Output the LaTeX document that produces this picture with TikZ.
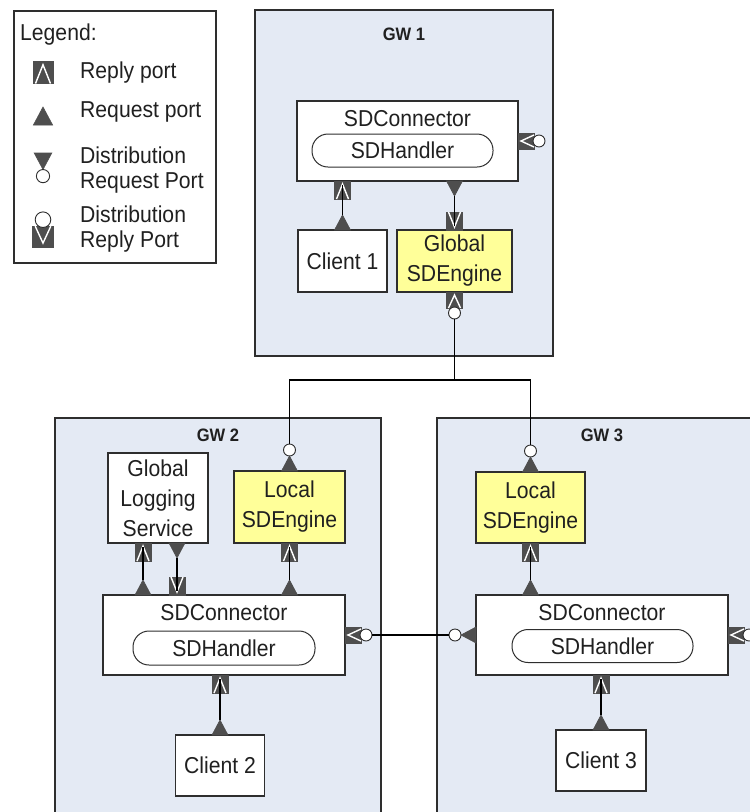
\documentclass[tikz,border=0pt]{standalone}
\usepackage{fontspec}
\setmainfont{Liberation Sans}[FakeStretch=0.92]
\usetikzlibrary{calc}
\definecolor{gwblue}{HTML}{E4EAF4}
\definecolor{engyellow}{HTML}{FFFF99}
\definecolor{edgegray}{HTML}{2E2E2E}
\definecolor{portgray}{HTML}{4E4E4E}
\definecolor{inkgray}{HTML}{202020}
\newcommand\boxfont{\fontsize{23}{30}\selectfont}
\newcommand\legfont{\fontsize{23}{25}\selectfont}
\newcommand\gwfont{\fontsize{18}{20}\selectfont\bfseries}
\tikzset{
  gw/.style={draw=edgegray, fill=gwblue, line width=1.3pt, inner sep=0pt, outer sep=0pt},
  box/.style={draw=edgegray, fill=white, line width=1.2pt, inner sep=0pt, outer sep=0pt,
    align=center, font=\boxfont, text=inkgray},
  engine/.style={box, fill=engyellow},
  pill/.style={draw=edgegray, fill=white, line width=1pt, rounded corners=16pt, inner sep=0pt,
    outer sep=0pt, font=\boxfont, text=inkgray},
  lbl/.style={font=\boxfont, text=inkgray, inner sep=0pt},
  leg/.style={font=\legfont, text=inkgray, inner sep=0pt, anchor=west, align=left},
  gwlabel/.style={font=\gwfont, text=inkgray, inner sep=0pt},
  wire/.style={draw=black, line width=1.1pt},
  portbody/.style={fill=portgray, draw=portgray, line width=0.6pt},
  portring/.style={fill=white, draw=edgegray, line width=0.9pt},
  portmark/.style={draw=white, line width=1.4pt},
  % ports sit on a component edge at the origin and point outward along local +y
  reqport/.pic={
    \path[portbody] (-8,0) -- (8,0) -- (0,15) -- cycle;
    \coordinate (-tip) at (0,15);},
  repport/.pic={
    \path[portbody] (-8,0) rectangle (8,18);
    \draw[portmark] (-6,18) -- (0,3) -- (6,18);
    \coordinate (-tip) at (0,4);},
  dreqport/.pic={
    \path[portbody] (-8,0) -- (8,0) -- (0,15) -- cycle;
    \path[portring] (0,21) circle[radius=6pt];
    \coordinate (-tip) at (0,27);},
  drepport/.pic={
    \path[portbody] (-8,0) rectangle (8,16);
    \draw[portmark] (-6,16) -- (0,3) -- (6,16);
    \path[portring] (0,21) circle[radius=6pt];
    \coordinate (-tip) at (0,27);},
}
\begin{document}
\begin{tikzpicture}[x=1pt,y=-1pt]
\useasboundingbox (0,0) rectangle (750,812);
\clip (0,0) rectangle (750,812);
\fill[white] (0,0) rectangle (750,812);

% gateway areas
\node[gw, minimum width=298pt, minimum height=346pt] (gw1) at (404,183) {};
\node[gw, minimum width=326pt, minimum height=412pt] (gw2) at (218,624) {};
\node[gw, minimum width=333pt, minimum height=412pt] (gw3) at (603.5,624) {};
\node[gwlabel] (gw1lbl) at (404,34) {GW 1};
\node[gwlabel] (gw2lbl) at (218,435) {GW 2};
\node[gwlabel] (gw3lbl) at (602,435) {GW 3};

% legend
\node[box, minimum width=202pt, minimum height=252pt] (legend) at (115,137) {};
\node[leg] (legtitle) at (20,35) {Legend:};
\node[leg] (legrep) at (80,73) {Reply port};
\node[leg] (legreq) at (80,112) {Request port};
\node[leg] (legdreq) at (80,170) {Distribution\\Request Port};
\node[leg] (legdrep) at (80,229) {Distribution\\Reply Port};
\pic[scale=1.25] (iconrep) at (43,61) {repport};
\pic[scale=1.2, rotate=180] (iconreq) at (43,125) {reqport};
\pic[scale=1.1] (icondreq) at (43,153) {dreqport};
\pic[scale=1.3, rotate=180] (icondrep) at (43,247) {drepport};

% GW 1 components
\node[box, minimum width=221pt, minimum height=80pt] (sdc1) at (407.5,141) {};
\node[lbl] (sdc1lbl) at ($(sdc1.north)+(0,18)$) {SDConnector};
\node[pill, minimum width=181pt, minimum height=33pt] (sdh1) at (402.5,150.5) {SDHandler};
\node[box, minimum width=89pt, minimum height=62pt] (client1) at (342.5,261) {Client 1};
\node[engine, minimum width=115pt, minimum height=62pt] (gsde) at (454.5,261) {Global\\SDEngine};

% GW 2 components
\node[box, minimum width=100pt, minimum height=90pt] (gls) at (158,498) {Global\\Logging\\Service};
\node[engine, minimum width=111pt, minimum height=72pt] (lsde2) at (289.5,507) {Local\\SDEngine};
\node[box, minimum width=242pt, minimum height=80pt] (sdc2) at (224,635) {};
\node[lbl] (sdc2lbl) at ($(sdc2.north)+(0,18)$) {SDConnector};
\node[pill, minimum width=182pt, minimum height=34pt] (sdh2) at (224,648) {SDHandler};
\node[box, minimum width=89pt, minimum height=61pt] (client2) at (220,765.5) {Client 2};

% GW 3 components
\node[engine, minimum width=109pt, minimum height=71pt] (lsde3) at (530.5,507.5) {Local\\SDEngine};
\node[box, minimum width=252pt, minimum height=80pt] (sdc3) at (602,635) {};
\node[lbl] (sdc3lbl) at ($(sdc3.north)+(0,18)$) {SDConnector};
\node[pill, minimum width=181pt, minimum height=33pt] (sdh3) at (602.5,646) {SDHandler};
\node[box, minimum width=90pt, minimum height=61pt] (client3) at (601,760.5) {Client 3};

% ports of GW 1
\pic[rotate=180] (c1req) at (client1.north) {reqport};
\pic (sdc1rep) at (client1.north |- sdc1.south) {repport};
\pic (sdc1req) at (gsde.north |- sdc1.south) {reqport};
\pic[rotate=180] (gsderep) at (gsde.north) {repport};
\pic (gsdedrep) at (gsde.south) {drepport};
\pic[rotate=90] (sdc1drep) at (sdc1.east) {drepport};

% ports of GW 2
\coordinate (glsA) at ($(gls.south)+(-15,0)$);
\coordinate (glsB) at ($(gls.south)+(19,0)$);
\pic (glsrep) at (glsA) {repport};
\pic[rotate=180] (sdc2reqA) at (glsA |- sdc2.north) {reqport};
\pic (glsreq) at (glsB) {reqport};
\pic[rotate=180] (sdc2repB) at (glsB |- sdc2.north) {repport};
\pic[rotate=180] (l2dreq) at (lsde2.north) {dreqport};
\pic (l2rep) at (lsde2.south) {repport};
\pic[rotate=180] (sdc2reqL) at (lsde2.south |- sdc2.north) {reqport};
\pic (sdc2repC) at (client2.north |- sdc2.south) {repport};
\pic[rotate=180] (c2req) at (client2.north) {reqport};
\pic[rotate=90] (sdc2drep) at (sdc2.east) {drepport};

% ports of GW 3
\pic[rotate=180] (l3dreq) at (lsde3.north) {dreqport};
\pic (l3rep) at (lsde3.south) {repport};
\pic[rotate=180] (sdc3reqL) at (lsde3.south |- sdc3.north) {reqport};
\pic[rotate=-90] (sdc3dreq) at (sdc3.west) {dreqport};
\pic[rotate=90] (sdc3drep) at (sdc3.east) {drepport};
\pic (sdc3repC) at (client3.north |- sdc3.south) {repport};
\pic[rotate=180] (c3req) at (client3.north) {reqport};

% connectors
\draw[wire] (c1req-tip) -- (sdc1rep-tip);
\draw[wire] (sdc1req-tip) -- (gsderep-tip);
\draw[wire] (glsrep-tip) -- (sdc2reqA-tip);
\draw[wire] (glsreq-tip) -- (sdc2repB-tip);
\draw[wire] (l2rep-tip) -- (sdc2reqL-tip);
\draw[wire] (sdc2repC-tip) -- (c2req-tip);
\draw[wire] (l3rep-tip) -- (sdc3reqL-tip);
\draw[wire] (sdc3repC-tip) -- (c3req-tip);
\draw[wire] (sdc2drep-tip) -- (sdc3dreq-tip);
\coordinate (bus) at (gsde.south |- 0,380);
\draw[wire] (gsdedrep-tip) -- (bus) -| (l2dreq-tip);
\draw[wire] (bus) -| (l3dreq-tip);
\end{tikzpicture}
\end{document}
